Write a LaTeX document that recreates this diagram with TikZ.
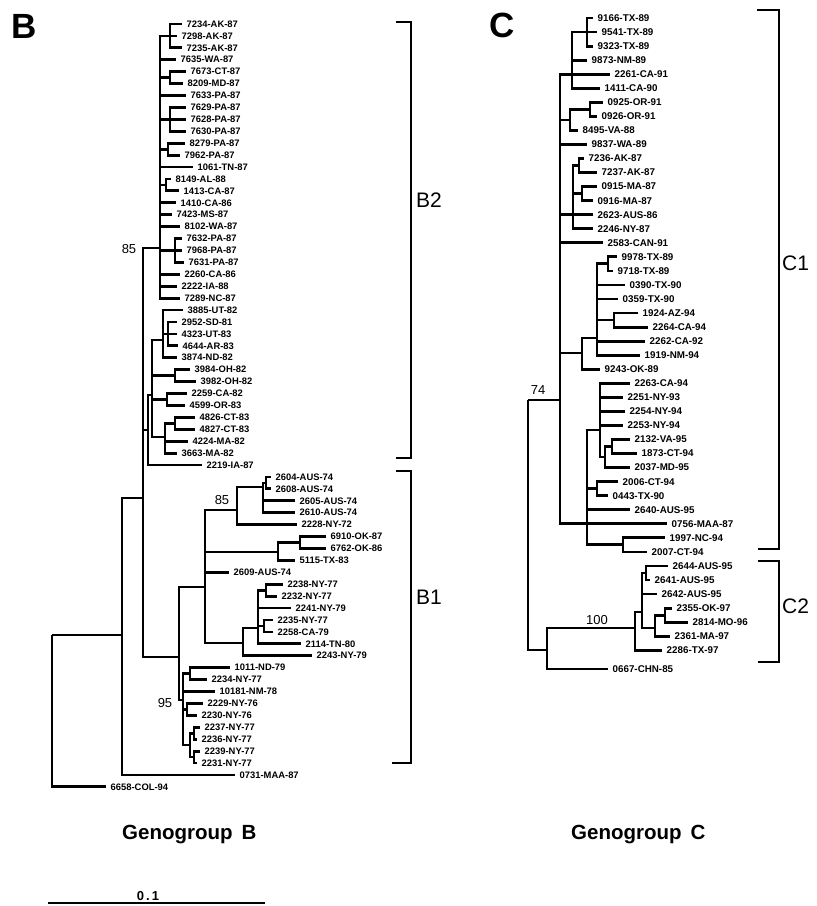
\documentclass[tikz,border=0pt]{standalone}
\usepackage{fontspec}
\setmainfont{Liberation Sans}
% leaf rows of the two trees
\newcommand{\yB}[1]{24+11.92*#1}
\newcommand{\yC}[1]{18+14.05*#1}
\tikzset{
  br/.style={line width=2.8pt, line join=miter},
  lf/.style={anchor=west, inner xsep=5pt, inner ysep=0.5pt, font=\fontsize{9.4}{10}\selectfont\bfseries},
  lfc/.style={lf, font=\fontsize{9.8}{10}\selectfont\bfseries},
  boot/.style={inner sep=0pt, font=\fontsize{13}{14}\selectfont},
  bracket/.style={line width=1.6pt},
  clade/.style={anchor=west, inner sep=0pt, font=\fontsize{21}{22}\selectfont},
  panel/.style={anchor=base west, inner sep=0pt, font=\fontsize{35}{36}\selectfont\bfseries},
  group/.style={anchor=base west, inner sep=0pt, font=\fontsize{20.5}{22}\selectfont\bfseries},
}
% internal node: name, parent, x, y
\newcommand{\tnode}[4]{\coordinate (#1) at (#3,{#4}); \draw[br] (#2) |- (#1);}
% leaf: style, name, parent, label x, y, text
\newcommand{\tleaf}[6]{\node[#1] (#2) at ({#4-5.5},{#5}) {#6}; \draw[br] (#3) |- (#2.west);}
\begin{document}
\begin{tikzpicture}[x=1pt,y=-1pt]
\useasboundingbox (0,0) rectangle (817,906);

% ---------------- Genogroup B ----------------
\coordinate (RB) at (52,635);
\tnode{N1}{RB}{122}{635}
\tleaf{lf}{b64}{RB}{111}{\yB{64}}{6658-COL-94}
\tnode{N2}{N1}{143}{498}
\tleaf{lf}{b63}{N1}{240}{\yB{63}}{0731-MAA-87}
\tnode{U}{N2}{160}{248}
\tnode{L1}{N2}{148}{430}
\tnode{B1n}{N2}{179}{657}

% upper part of B2
\tnode{A}{U}{170}{\yB{1}}
\tleaf{lf}{b0}{A}{187}{\yB{0}}{7234-AK-87}
\tleaf{lf}{b1}{A}{182}{\yB{1}}{7298-AK-87}
\tleaf{lf}{b2}{A}{187}{\yB{2}}{7235-AK-87}
\tleaf{lf}{b3}{U}{181}{\yB{3}}{7635-WA-87}
\tnode{P1}{U}{170}{\yB{4.5}}
\tleaf{lf}{b4}{P1}{191}{\yB{4}}{7673-CT-87}
\tleaf{lf}{b5}{P1}{188}{\yB{5}}{8209-MD-87}
\tleaf{lf}{b6}{U}{191}{\yB{6}}{7633-PA-87}
\tnode{P2}{U}{170}{\yB{8}}
\tleaf{lf}{b7}{P2}{191}{\yB{7}}{7629-PA-87}
\tleaf{lf}{b8}{P2}{191}{\yB{8}}{7628-PA-87}
\tleaf{lf}{b9}{P2}{191}{\yB{9}}{7630-PA-87}
\tnode{P3}{U}{168}{\yB{10.5}}
\tleaf{lf}{b10}{P3}{190}{\yB{10}}{8279-PA-87}
\tleaf{lf}{b11}{P3}{185}{\yB{11}}{7962-PA-87}
\tleaf{lf}{b12}{U}{198}{\yB{12}}{1061-TN-87}
\tnode{P4}{U}{166}{\yB{13.5}}
\tleaf{lf}{b13}{P4}{176}{\yB{13}}{8149-AL-88}
\tleaf{lf}{b14}{P4}{184}{\yB{14}}{1413-CA-87}
\tleaf{lf}{b15}{U}{181}{\yB{15}}{1410-CA-86}
\tleaf{lf}{b16}{U}{177}{\yB{16}}{7423-MS-87}
\tleaf{lf}{b17}{U}{185}{\yB{17}}{8102-WA-87}
\tnode{P5}{U}{175}{\yB{19}}
\tleaf{lf}{b18}{P5}{187}{\yB{18}}{7632-PA-87}
\tleaf{lf}{b19}{P5}{187}{\yB{19}}{7968-PA-87}
\tleaf{lf}{b20}{P5}{189}{\yB{20}}{7631-PA-87}
\tleaf{lf}{b21}{U}{185}{\yB{21}}{2260-CA-86}
\tleaf{lf}{b22}{U}{182}{\yB{22}}{2222-IA-88}
\tleaf{lf}{b23}{U}{185}{\yB{23}}{7289-NC-87}

% lower part of B2
\tnode{L2}{L1}{152}{395}
\tleaf{lf}{b37}{L1}{207}{\yB{37}}{2219-IA-87}
\tnode{A1}{L2}{163}{340}
\tleaf{lf}{b24}{A1}{188}{\yB{24}}{3885-UT-82}
\tnode{A2}{A1}{168}{\yB{26}}
\tleaf{lf}{b25}{A2}{182}{\yB{25}}{2952-SD-81}
\tleaf{lf}{b26}{A2}{182}{\yB{26}}{4323-UT-83}
\tleaf{lf}{b27}{A2}{183}{\yB{27}}{4644-AR-83}
\tleaf{lf}{b28}{A1}{182}{\yB{28}}{3874-ND-82}
\tnode{OH}{L2}{175}{\yB{29.5}}
\tleaf{lf}{b29}{OH}{195}{\yB{29}}{3984-OH-82}
\tleaf{lf}{b30}{OH}{201}{\yB{30}}{3982-OH-82}
\tnode{CA}{L2}{167}{\yB{31.5}}
\tleaf{lf}{b31}{CA}{192}{\yB{31}}{2259-CA-82}
\tleaf{lf}{b32}{CA}{190}{\yB{32}}{4599-OR-83}
\tnode{CT}{L2}{165}{437}
\tnode{CT2}{CT}{175}{\yB{33.5}}
\tleaf{lf}{b33}{CT2}{200}{\yB{33}}{4826-CT-83}
\tleaf{lf}{b34}{CT2}{200}{\yB{34}}{4827-CT-83}
\tleaf{lf}{b35}{CT}{193}{\yB{35}}{4224-MA-82}
\tleaf{lf}{b36}{CT}{182}{\yB{36}}{3663-MA-82}

% B1
\tnode{M}{B1n}{205}{587}
\tnode{P95}{B1n}{183}{700}
\tnode{K85}{M}{237}{510}
\tnode{K2}{K85}{263}{487}
\tnode{K3}{K2}{266}{\yB{38.5}}
\tleaf{lf}{b38}{K3}{276}{\yB{38}}{2604-AUS-74}
\tleaf{lf}{b39}{K3}{276}{\yB{39}}{2608-AUS-74}
\tleaf{lf}{b40}{K2}{300}{\yB{40}}{2605-AUS-74}
\tleaf{lf}{b41}{K2}{300}{\yB{41}}{2610-AUS-74}
\tleaf{lf}{b42}{K85}{302}{\yB{42}}{2228-NY-72}
\tnode{O1}{M}{278}{552}
\tnode{O2}{O1}{300}{\yB{43.5}}
\tleaf{lf}{b43}{O2}{331}{\yB{43}}{6910-OK-87}
\tleaf{lf}{b44}{O2}{331}{\yB{44}}{6762-OK-86}
\tleaf{lf}{b45}{O1}{300}{\yB{45}}{5115-TX-83}
\tleaf{lf}{b46}{M}{234}{\yB{46}}{2609-AUS-74}
\tnode{N77}{M}{243}{643}
\tnode{R1}{N77}{258}{628}
\tnode{R2}{R1}{266}{\yB{47.5}}
\tleaf{lf}{b47}{R2}{288}{\yB{47}}{2238-NY-77}
\tleaf{lf}{b48}{R2}{282}{\yB{48}}{2232-NY-77}
\tleaf{lf}{b49}{R1}{296}{\yB{49}}{2241-NY-79}
\tnode{R3}{R1}{264}{\yB{50.5}}
\tleaf{lf}{b50}{R3}{278}{\yB{50}}{2235-NY-77}
\tleaf{lf}{b51}{R3}{278}{\yB{51}}{2258-CA-79}
\tleaf{lf}{b52}{R1}{306}{\yB{52}}{2114-TN-80}
\tleaf{lf}{b53}{N77}{317}{\yB{53}}{2243-NY-79}
\tnode{Q1}{P95}{190}{\yB{54.5}}
\tleaf{lf}{b54}{Q1}{235}{\yB{54}}{1011-ND-79}
\tleaf{lf}{b55}{Q1}{212}{\yB{55}}{2234-NY-77}
\tleaf{lf}{b56}{P95}{220}{\yB{56}}{10181-NM-78}
\tnode{Q2}{P95}{187}{\yB{57.5}}
\tleaf{lf}{b57}{Q2}{208}{\yB{57}}{2229-NY-76}
\tleaf{lf}{b58}{Q2}{202}{\yB{58}}{2230-NY-76}
\tnode{Q3}{P95}{190}{745}
\tnode{Q4}{Q3}{194}{\yB{59.5}}
\tleaf{lf}{b59}{Q4}{205}{\yB{59}}{2237-NY-77}
\tleaf{lf}{b60}{Q4}{202}{\yB{60}}{2236-NY-77}
\tnode{Q5}{Q3}{194}{\yB{61.5}}
\tleaf{lf}{b61}{Q5}{205}{\yB{61}}{2239-NY-77}
\tleaf{lf}{b62}{Q5}{202}{\yB{62}}{2231-NY-77}

% bootstrap values, tree B
\node[boot] (bsBa) at (129,249) {85};
\node[boot] (bsBb) at (222,500) {85};
\node[boot] (bsBc) at (165,703) {95};

% clade brackets, tree B
\draw[bracket] (396,22) -- (411,22) -- (411,458) -- (396,458);
\draw[bracket] (396,471) -- (411,471) -- (411,763) -- (392,763);
\node[clade] (labB2) at (416,200) {B2};
\node[clade] (labB1) at (416,597) {B1};

% ---------------- Genogroup C ----------------
\coordinate (RC) at (528,400);
\tnode{C1n}{RC}{560}{400}
\tnode{H}{RC}{547}{650}

\tnode{T}{C1n}{572}{\yC{4}}
\tnode{T1}{T}{587}{\yC{1}}
\tleaf{lfc}{c0}{T1}{598}{\yC{0}}{9166-TX-89}
\tleaf{lfc}{c1}{T1}{602}{\yC{1}}{9541-TX-89}
\tleaf{lfc}{c2}{T1}{598}{\yC{2}}{9323-TX-89}
\tleaf{lfc}{c3}{T}{592}{\yC{3}}{9873-NM-89}
\tleaf{lfc}{c4}{T}{615}{\yC{4}}{2261-CA-91}
\tleaf{lfc}{c5}{T}{605}{\yC{5}}{1411-CA-90}
\tnode{V}{C1n}{570}{120}
\tnode{V1}{V}{590}{\yC{6.5}}
\tleaf{lfc}{c6}{V1}{608}{\yC{6}}{0925-OR-91}
\tleaf{lfc}{c7}{V1}{602}{\yC{7}}{0926-OR-91}
\tleaf{lfc}{c8}{V}{583}{\yC{8}}{8495-VA-88}
\tleaf{lfc}{c9}{C1n}{592}{\yC{9}}{9837-WA-89}
\tnode{W}{C1n}{573}{\yC{14}}
\tnode{W1}{W}{579}{\yC{10.5}}
\tleaf{lfc}{c10}{W1}{589}{\yC{10}}{7236-AK-87}
\tleaf{lfc}{c11}{W1}{602}{\yC{11}}{7237-AK-87}
\tnode{W2}{W}{582}{\yC{12.5}}
\tleaf{lfc}{c12}{W2}{602}{\yC{12}}{0915-MA-87}
\tleaf{lfc}{c13}{W2}{598}{\yC{13}}{0916-MA-87}
\tleaf{lfc}{c14}{W}{598}{\yC{14}}{2623-AUS-86}
\tleaf{lfc}{c15}{W}{598}{\yC{15}}{2246-NY-87}
\tleaf{lfc}{c16}{C1n}{608}{\yC{16}}{2583-CAN-91}
\tnode{X}{C1n}{582}{353}
\tnode{X1}{X}{597}{338}
\tnode{X2}{X1}{608}{\yC{17.5}}
\tleaf{lfc}{c17}{X2}{622}{\yC{17}}{9978-TX-89}
\tleaf{lfc}{c18}{X2}{618}{\yC{18}}{9718-TX-89}
\tleaf{lfc}{c19}{X1}{630}{\yC{19}}{0390-TX-90}
\tleaf{lfc}{c20}{X1}{623}{\yC{20}}{0359-TX-90}
\tnode{Y}{X1}{614}{\yC{21.5}}
\tleaf{lfc}{c21}{Y}{643}{\yC{21}}{1924-AZ-94}
\tleaf{lfc}{c22}{Y}{653}{\yC{22}}{2264-CA-94}
\tleaf{lfc}{c23}{X1}{650}{\yC{23}}{2262-CA-92}
\tleaf{lfc}{c24}{X1}{645}{\yC{24}}{1919-NM-94}
\tleaf{lfc}{c25}{X}{605}{\yC{25}}{9243-OK-89}
\tnode{S}{C1n}{587}{\yC{36}}
\tnode{S1}{S}{600}{430}
\tleaf{lfc}{c26}{S1}{635}{\yC{26}}{2263-CA-94}
\tleaf{lfc}{c27}{S1}{628}{\yC{27}}{2251-NY-93}
\tleaf{lfc}{c28}{S1}{630}{\yC{28}}{2254-NY-94}
\tleaf{lfc}{c29}{S1}{628}{\yC{29}}{2253-NY-94}
\tnode{Z1}{S1}{605}{457}
\tnode{Z2}{Z1}{612}{\yC{30.5}}
\tleaf{lfc}{c30}{Z2}{635}{\yC{30}}{2132-VA-95}
\tleaf{lfc}{c31}{Z2}{642}{\yC{31}}{1873-CT-94}
\tleaf{lfc}{c32}{Z1}{635}{\yC{32}}{2037-MD-95}
\tnode{Z3}{S}{597}{\yC{33.5}}
\tleaf{lfc}{c33}{Z3}{623}{\yC{33}}{2006-CT-94}
\tleaf{lfc}{c34}{Z3}{613}{\yC{34}}{0443-TX-90}
\tleaf{lfc}{c35}{S}{635}{\yC{35}}{2640-AUS-95}
\tleaf{lfc}{c36}{S}{672}{\yC{36}}{0756-MAA-87}
\tnode{D}{S}{623}{\yC{37.5}}
\tleaf{lfc}{c37}{D}{670}{\yC{37}}{1997-NC-94}
\tleaf{lfc}{c38}{D}{652}{\yC{38}}{2007-CT-94}

\tnode{C2n}{H}{635}{628}
\tleaf{lfc}{c46}{H}{613}{669}{0667-CHN-85}
\tnode{G1}{C2n}{642}{612}
\tnode{G2}{G1}{646}{\yC{39.5}}
\tleaf{lfc}{c39}{G2}{673}{\yC{39}}{2644-AUS-95}
\tleaf{lfc}{c40}{G2}{655}{\yC{40}}{2641-AUS-95}
\tleaf{lfc}{c41}{G1}{662}{\yC{41}}{2642-AUS-95}
\tnode{G3}{G1}{655}{628}
\tnode{G4}{G3}{665}{\yC{42.5}}
\tleaf{lfc}{c42}{G4}{677}{\yC{42}}{2355-OK-97}
\tleaf{lfc}{c43}{G4}{693}{\yC{43}}{2814-MO-96}
\tleaf{lfc}{c44}{G3}{675}{\yC{44}}{2361-MA-97}
\tleaf{lfc}{c45}{C2n}{667}{\yC{45}}{2286-TX-97}

% bootstrap values, tree C
\node[boot] (bsCa) at (538,390) {74};
\node[boot] (bsCb) at (597,620) {100};

% clade brackets, tree C
\draw[bracket] (757,10) -- (779,10) -- (779,549) -- (758,549);
\draw[bracket] (758,561) -- (779,561) -- (779,662) -- (758,662);
\node[clade] (labC1) at (782,263) {C1};
\node[clade] (labC2) at (782,606) {C2};

% panel letters and captions
\node[panel] (panB) at (11,38) {B};
\node[panel] (panC) at (489,37) {C};
\node[group] (capB) at (122,839) {Genogroup\hspace{9pt}B};
\node[group] (capC) at (571,839) {Genogroup\hspace{9pt}C};

% scale bar
\coordinate (sb0) at (48,903);
\coordinate (sb1) at (265,903);
\draw[line width=1.8pt] (sb0) -- (sb1);
\node[anchor=base, inner sep=0pt, font=\fontsize{13}{14}\selectfont\bfseries] (sblab) at (148,900) {0\kern2pt.\kern2pt1};
\end{tikzpicture}
\end{document}
